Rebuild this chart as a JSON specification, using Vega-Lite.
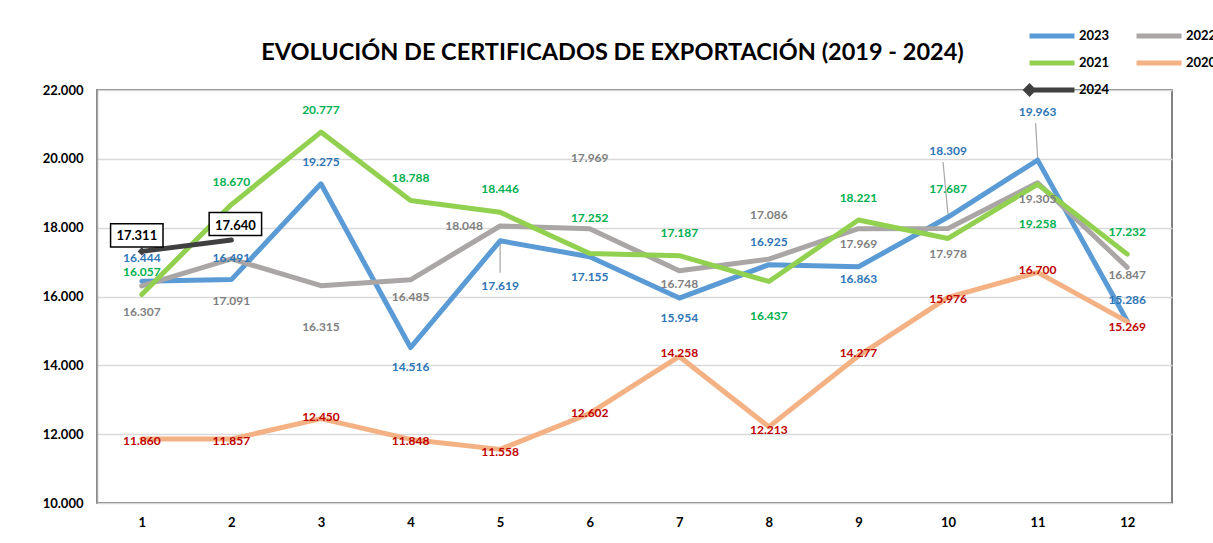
{
  "$schema": "https://vega.github.io/schema/vega-lite/v6.json",
  "width": 1075,
  "height": 413,
  "autosize": {"type": "none"},
  "padding": {"left": 97, "top": 90, "right": 41, "bottom": 40},
  "background": "white",
  "config": {
    "locale": {"number": {"decimal": ",", "thousands": ".", "grouping": [3], "currency": ["", ""]}},
    "font": "Lato",
    "view": {"stroke": "#595959", "strokeWidth": 1.5}
  },
  "title": {
    "text": "EVOLUCIÓN DE CERTIFICADOS DE EXPORTACIÓN (2019 - 2024)",
    "fontSize": 23.5, "fontWeight": "bold", "font": "Lato", "color": "black",
    "frame": "group", "anchor": "middle", "baseline": "alphabetic", "offset": 32, "dx": -22, "dy": 93
  },
  "data": {"values": [
    {"serie": "2023", "mes": 1, "valor": 16444},
    {"serie": "2023", "mes": 2, "valor": 16491},
    {"serie": "2023", "mes": 3, "valor": 19275},
    {"serie": "2023", "mes": 4, "valor": 14516},
    {"serie": "2023", "mes": 5, "valor": 17619},
    {"serie": "2023", "mes": 6, "valor": 17155},
    {"serie": "2023", "mes": 7, "valor": 15954},
    {"serie": "2023", "mes": 8, "valor": 16925},
    {"serie": "2023", "mes": 9, "valor": 16863},
    {"serie": "2023", "mes": 10, "valor": 18309},
    {"serie": "2023", "mes": 11, "valor": 19963},
    {"serie": "2023", "mes": 12, "valor": 15286},
    {"serie": "2022", "mes": 1, "valor": 16307},
    {"serie": "2022", "mes": 2, "valor": 17091},
    {"serie": "2022", "mes": 3, "valor": 16315},
    {"serie": "2022", "mes": 4, "valor": 16485},
    {"serie": "2022", "mes": 5, "valor": 18048},
    {"serie": "2022", "mes": 6, "valor": 17969},
    {"serie": "2022", "mes": 7, "valor": 16748},
    {"serie": "2022", "mes": 8, "valor": 17086},
    {"serie": "2022", "mes": 9, "valor": 17969},
    {"serie": "2022", "mes": 10, "valor": 17978},
    {"serie": "2022", "mes": 11, "valor": 19305},
    {"serie": "2022", "mes": 12, "valor": 16847},
    {"serie": "2021", "mes": 1, "valor": 16057},
    {"serie": "2021", "mes": 2, "valor": 18670},
    {"serie": "2021", "mes": 3, "valor": 20777},
    {"serie": "2021", "mes": 4, "valor": 18788},
    {"serie": "2021", "mes": 5, "valor": 18446},
    {"serie": "2021", "mes": 6, "valor": 17252},
    {"serie": "2021", "mes": 7, "valor": 17187},
    {"serie": "2021", "mes": 8, "valor": 16437},
    {"serie": "2021", "mes": 9, "valor": 18221},
    {"serie": "2021", "mes": 10, "valor": 17687},
    {"serie": "2021", "mes": 11, "valor": 19258},
    {"serie": "2021", "mes": 12, "valor": 17232},
    {"serie": "2020", "mes": 1, "valor": 11860},
    {"serie": "2020", "mes": 2, "valor": 11857},
    {"serie": "2020", "mes": 3, "valor": 12450},
    {"serie": "2020", "mes": 4, "valor": 11848},
    {"serie": "2020", "mes": 5, "valor": 11558},
    {"serie": "2020", "mes": 6, "valor": 12602},
    {"serie": "2020", "mes": 7, "valor": 14258},
    {"serie": "2020", "mes": 8, "valor": 12213},
    {"serie": "2020", "mes": 9, "valor": 14277},
    {"serie": "2020", "mes": 10, "valor": 15976},
    {"serie": "2020", "mes": 11, "valor": 16700},
    {"serie": "2020", "mes": 12, "valor": 15269},
    {"serie": "2024", "mes": 1, "valor": 17311},
    {"serie": "2024", "mes": 2, "valor": 17640}
  ]},
  "encoding": {
    "x": {
      "field": "mes", "type": "ordinal",
      "scale": {"type": "point", "padding": 0.5},
      "axis": {"labelAngle": 0, "title": null, "ticks": false, "domain": false, "grid": false,
               "labelFontSize": 13, "labelFontWeight": "bold", "labelColor": "black", "labelPadding": 13, "labelFont": "Lato"}
    },
    "y": {
      "field": "valor", "type": "quantitative",
      "scale": {"domain": [10000, 22000], "nice": false, "zero": false},
      "axis": {"values": [10000, 12000, 14000, 16000, 18000, 20000, 22000], "format": ",.0f", "title": null,
               "ticks": false, "domain": true, "domainColor": "#A6A6A6", "domainWidth": 1.5, "grid": true, "gridColor": "#D9D9D9", "gridWidth": 1.5,
               "labelFontSize": 13, "labelFontWeight": "bold", "labelColor": "black", "labelPadding": 14, "labelFont": "Lato"}
    }
  },
  "layer": [
    {
      "transform": [{"filter": "datum.serie == '2023' && (datum.mes == 5 || datum.mes == 10 || datum.mes == 11)"}],
      "mark": {"type": "rule", "color": "#A6A6A6", "strokeWidth": 1.2,
               "yOffset": {"expr": "datum.mes == 5 ? 2 : -2"},
               "y2Offset": {"expr": "datum.mes == 5 ? 32 : (datum.mes == 10 ? -55 : -37)"},
               "x2Offset": {"expr": "datum.mes == 10 ? -5 : (datum.mes == 11 ? -2 : 0)"}},
      "encoding": {
        "x2": {"field": "mes"},
        "y2": {"field": "valor"}
      }
    },
    {
      "mark": {"type": "line", "strokeWidth": 5, "strokeCap": "round", "strokeJoin": "round"},
      "encoding": {
        "color": {
          "field": "serie", "type": "nominal",
          "scale": {"domain": ["2023", "2022", "2021", "2020", "2024"],
                    "range": ["#5B9BD5", "#A9A6A5", "#92D050", "#F4B183", "#404040"]},
          "legend": {"orient": "none", "legendX": 941, "legendY": -68, "columns": 2, "direction": "horizontal", "title": null,
                     "symbolType": "M-2,0H2", "symbolStrokeWidth": 5, "symbolSize": 506,
                     "labelFontSize": 13, "labelFontWeight": "bold", "labelColor": "black", "labelFont": "Lato",
                     "columnPadding": 16, "rowPadding": 3, "padding": 0, "labelOffset": 13,
                     "encode": {"symbols": {"update": {"shape": {"signal": "datum.value === '2024' ? 'M-2,0H2M-2,-0.3L-1.7,0L-2,0.3L-2.3,0Z' : 'M-2,0H2'"}}}}}
        }
      }
    },
    {
      "transform": [{"filter": "datum.serie == '2024' && datum.mes == 1"}],
      "mark": {"type": "point", "shape": "diamond", "filled": true, "size": 70, "color": "#404040", "opacity": 1}
    },
    {
      "transform": [{"filter": "datum.serie == '2024'"}],
      "mark": {"type": "point", "shape": "M-1,-0.44H1V0.44H-1Z", "size": 2750, "filled": true, "fill": "white",
               "stroke": "black", "strokeWidth": 1.5, "opacity": 1,
               "xOffset": {"expr": "datum.mes == 1 ? -5 : 4"}, "yOffset": -16}
    },
    {
      "mark": {"type": "text", "fontWeight": "bold", "font": "Lato",
               "fontSize": {"expr": "datum.serie == '2024' ? 13 : 12"},
               "dy": {"expr": "({'2023':[-23,-22,-22,19,45,20,20,-23,12,-66,-48,-21],'2022':[26,42,41,17,0,-71,13,-44,15,26,16,8],'2021':[-23,-23,-22,-23,-23,-35,-23,35,-22,-49,40,-22],'2020':[2,2,-2,2,3,0,-3,3,-3,2,-2,5],'2024':[-15,-14]})[datum.serie][datum.mes-1]"},
               "dx": {"expr": "datum.serie == '2022' && datum.mes == 5 ? -36 : (datum.serie == '2024' ? (datum.mes == 1 ? -5 : 4) : 0)"}},
      "encoding": {
        "text": {"field": "valor", "type": "quantitative", "format": ",.0f"},
        "fill": {
          "field": "serie", "type": "nominal",
          "scale": {"domain": ["2023", "2022", "2021", "2020", "2024"],
                    "range": ["#2E75B6", "#7F7F7F", "#00B050", "#C00000", "#000000"]},
          "legend": null
        }
      }
    }
  ]
}
